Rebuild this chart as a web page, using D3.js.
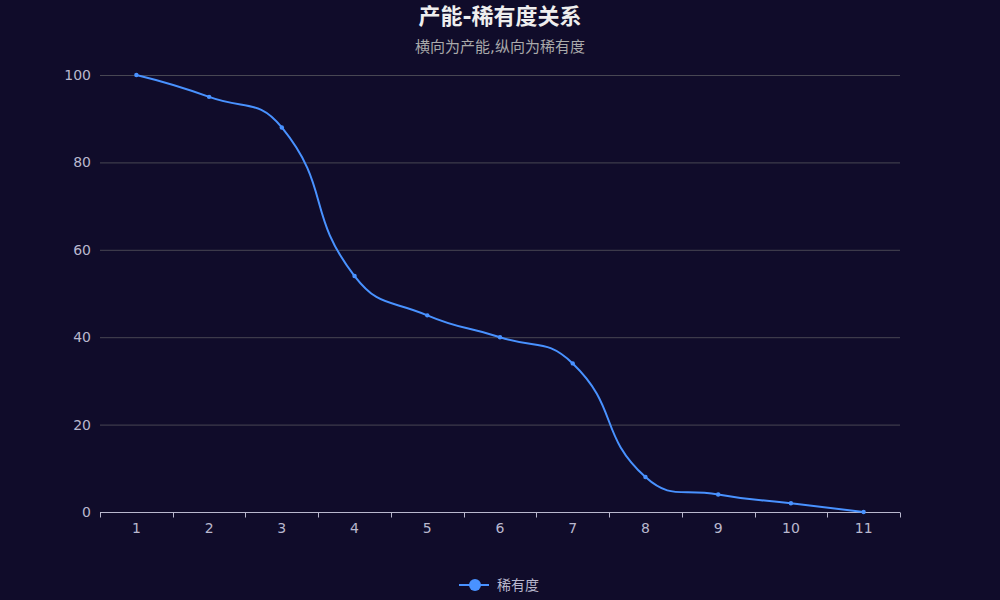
<!DOCTYPE html>
<html>
<head>
<meta charset="utf-8">
<script src="https://cdn.jsdelivr.net/npm/d3@7"></script>
<style>
  html, body { margin: 0; padding: 0; background: #100c2a; }
  text { font-family: "DejaVu Sans", "Noto Sans CJK SC", sans-serif; }
</style>
</head>
<body>
<svg id="chart" width="1000" height="600"></svg>
<script>
var categories = ["1", "2", "3", "4", "5", "6", "7", "8", "9", "10", "11"]
var rarity = [100, 95, 88, 54, 45, 40, 34, 8, 4, 2, 0]
var yTicks = [0, 20, 40, 60, 80, 100]

var width = 1000, height = 600
var margin = {top: 75, right: 100, bottom: 88, left: 100}
var lineColor = "#4992ff"
var labelColor = "#b9b8ce"

var svg = d3.select("#chart")
svg.append("rect").attr("width", width).attr("height", height).attr("fill", "#100c2a")

var xScale = d3.scaleBand()
  .domain(categories)
  .range([margin.left, width - margin.right])
var yScale = d3.scaleLinear()
  .domain([0, 100])
  .range([height - margin.bottom, margin.top])

// grid lines
svg.selectAll(".grid")
  .data(yTicks.filter(d => d > 0))
  .enter()
  .append("line")
  .attr("x1", margin.left)
  .attr("x2", width - margin.right)
  .attr("y1", d => yScale(d) + 0.5)
  .attr("y2", d => yScale(d) + 0.5)
  .attr("stroke", "#484753")
  .attr("stroke-width", 1)

// y labels
svg.selectAll(".ylab")
  .data(yTicks)
  .enter()
  .append("text")
  .attr("x", margin.left - 9)
  .attr("y", d => yScale(d))
  .attr("dy", "0.35em")
  .attr("text-anchor", "end")
  .attr("fill", labelColor)
  .attr("font-size", 14)
  .text(d => d)

// x axis line and ticks at band boundaries
var y0 = yScale(0) + 0.5
svg.append("line")
  .attr("x1", margin.left).attr("x2", width - margin.right)
  .attr("y1", y0).attr("y2", y0)
  .attr("stroke", "#b9b8ce").attr("stroke-width", 1)

var bounds = categories.map(c => xScale(c)).concat([xScale.range()[1]])
svg.selectAll(".xtick")
  .data(bounds)
  .enter()
  .append("line")
  .attr("x1", d => Math.round(d) + 0.5).attr("x2", d => Math.round(d) + 0.5)
  .attr("y1", y0).attr("y2", y0 + 5)
  .attr("stroke", "#b9b8ce").attr("stroke-width", 1)

svg.selectAll(".xlab")
  .data(categories)
  .enter()
  .append("text")
  .attr("x", d => xScale(d) + xScale.bandwidth() / 2)
  .attr("y", y0 + 16)
  .attr("dy", "0.35em")
  .attr("text-anchor", "middle")
  .attr("fill", labelColor)
  .attr("font-size", 14)
  .text(d => d)

// smooth line (echarts style smoothing, smooth = 0.5)
var pts = rarity.map((v, i) => [xScale(categories[i]) + xScale.bandwidth() / 2, yScale(v)])
function smoothPath(points, smooth){
  var p = d3.path()
  var n = points.length
  var cps = points.map((pt, i) => {
    if(i == 0 || i == n - 1) return {in: pt, out: pt}
    var prev = points[i - 1], next = points[i + 1]
    var vx = next[0] - prev[0], vy = next[1] - prev[1]
    var d0 = Math.hypot(pt[0] - prev[0], pt[1] - prev[1])
    var d1 = Math.hypot(next[0] - pt[0], next[1] - pt[1])
    var r = d1 / (d0 + d1)
    return {
      in: [pt[0] - vx * smooth * (1 - r), pt[1] - vy * smooth * (1 - r)],
      out: [pt[0] + vx * smooth * r, pt[1] + vy * smooth * r]
    }
  })
  p.moveTo(points[0][0], points[0][1])
  for(var i = 1; i < n; i++){
    var a = cps[i - 1].out, b = cps[i].in
    p.bezierCurveTo(a[0], a[1], b[0], b[1], points[i][0], points[i][1])
  }
  return p.toString()
}

svg.append("path")
  .attr("d", smoothPath(pts, 0.5))
  .attr("fill", "none")
  .attr("stroke", lineColor)
  .attr("stroke-width", 2)

svg.selectAll(".dot")
  .data(pts)
  .enter()
  .append("circle")
  .attr("cx", d => d[0])
  .attr("cy", d => d[1])
  .attr("r", 2.2)
  .attr("fill", lineColor)

// title
svg.append("text")
  .attr("x", width / 2).attr("y", 16).attr("dy", "0.35em")
  .attr("text-anchor", "middle")
  .attr("fill", "#eeeeee")
  .attr("font-size", 22)
  .attr("font-weight", "bold")
  .text("产能-稀有度关系")

svg.append("text")
  .attr("x", width / 2).attr("y", 47).attr("dy", "0.35em")
  .attr("text-anchor", "middle")
  .attr("fill", "#aaaaaa")
  .attr("font-size", 15)
  .text("横向为产能,纵向为稀有度")

// legend
var lg = svg.append("g").attr("transform", "translate(476,585)")
lg.append("line").attr("x1", -17).attr("x2", 13).attr("y1", 0).attr("y2", 0)
  .attr("stroke", lineColor).attr("stroke-width", 2)
lg.append("circle").attr("cx", -1).attr("cy", 0).attr("r", 6).attr("fill", lineColor)
lg.append("text").attr("x", 21).attr("y", 0).attr("dy", "0.35em")
  .attr("fill", labelColor).attr("font-size", 14)
  .text("稀有度")
</script>
</body>
</html>
